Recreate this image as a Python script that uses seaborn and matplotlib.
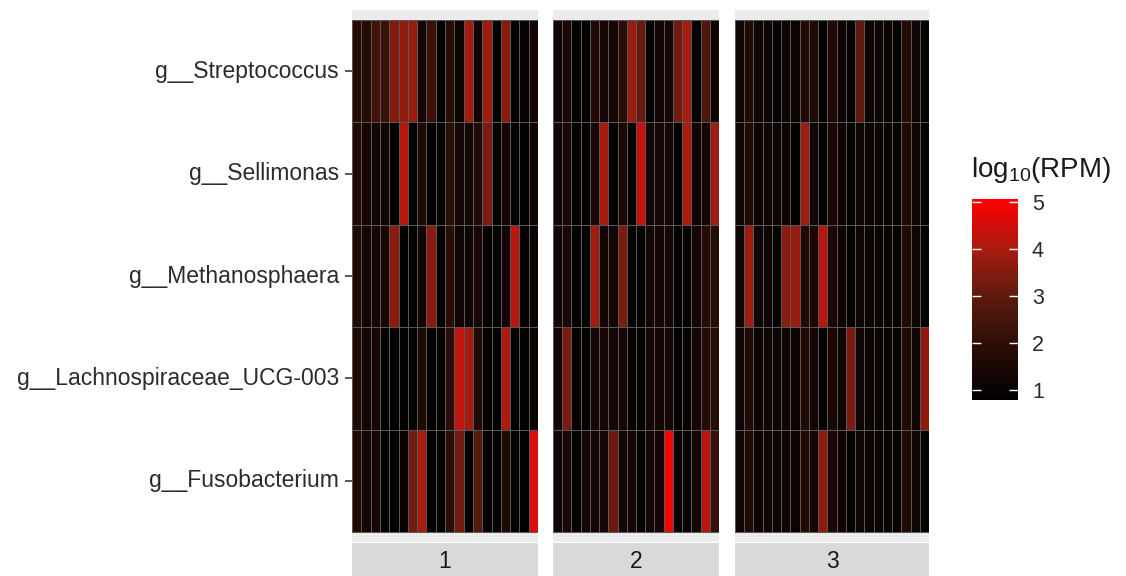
import numpy as np
import pandas as pd
import matplotlib
matplotlib.use("Agg")
import matplotlib.pyplot as plt
from matplotlib.colors import LinearSegmentedColormap
import seaborn as sns

# data
TAXA = ["g__Streptococcus", "g__Sellimonas", "g__Methanosphaera",
        "g__Lachnospiraceae_UCG-003", "g__Fusobacterium"]
FACET_LABELS = ["1", "2", "3"]

PANEL1_VALUES = [
    [1.8, 1.8, 2.4, 2.3, 3.5, 3.7, 3.8, 1.3, 2.3, 0.9, 1.9, 1.1, 4.0, 1.2, 3.9, 0.9, 3.6, 0.9, 1.0, 1.3],
    [1.7, 1.4, 1.3, 1.2, 0.9, 4.2, 0.9, 1.6, 0.9, 1.0, 1.9, 1.4, 1.4, 1.6, 3.4, 0.9, 1.4, 0.9, 0.9, 1.2],
    [1.7, 1.3, 1.4, 1.5, 3.6, 0.9, 0.9, 1.3, 3.6, 0.9, 1.9, 1.2, 1.2, 1.5, 0.9, 0.9, 1.3, 4.2, 0.9, 1.1],
    [1.7, 1.3, 1.4, 0.9, 0.9, 0.9, 0.9, 1.6, 0.9, 0.9, 1.9, 4.3, 4.0, 1.6, 0.9, 0.9, 4.1, 0.9, 0.9, 1.1],
    [1.7, 1.3, 1.4, 0.9, 0.9, 1.0, 3.3, 4.0, 0.9, 0.9, 1.9, 3.3, 0.9, 2.9, 0.9, 0.9, 1.6, 0.9, 0.9, 4.6],
]
PANEL2_VALUES = [
    [1.3, 1.5, 0.9, 1.0, 1.6, 1.4, 1.4, 1.9, 3.8, 3.2, 1.0, 1.3, 1.3, 3.3, 4.0, 0.9, 2.7, 1.2],
    [1.3, 1.5, 0.9, 0.9, 1.5, 4.0, 1.0, 1.5, 0.9, 4.4, 1.3, 1.4, 1.3, 0.9, 4.1, 1.2, 1.4, 3.9],
    [1.3, 1.5, 0.9, 0.9, 3.9, 1.3, 1.3, 3.4, 1.0, 0.9, 1.3, 1.3, 1.3, 0.9, 0.9, 1.3, 1.8, 1.8],
    [1.3, 3.4, 0.9, 0.9, 1.3, 1.4, 1.3, 1.4, 1.0, 0.9, 1.3, 1.3, 1.3, 0.9, 0.9, 1.3, 1.8, 1.8],
    [1.3, 1.5, 0.9, 1.3, 1.3, 1.4, 3.2, 1.3, 1.3, 0.9, 1.3, 1.3, 5.05, 0.9, 1.0, 1.3, 4.2, 2.2],
]
PANEL3_VALUES = [
    [1.2, 1.7, 1.2, 1.2, 0.9, 1.2, 1.1, 1.7, 1.6, 0.9, 1.6, 1.2, 0.9, 3.0, 1.2, 1.2, 1.1, 0.9, 1.8, 1.2, 0.9],
    [1.2, 1.6, 1.2, 1.2, 1.1, 1.2, 0.9, 3.9, 1.2, 0.9, 1.5, 1.2, 0.9, 1.2, 1.1, 1.1, 1.1, 0.9, 1.7, 1.2, 0.9],
    [1.2, 3.9, 1.2, 1.2, 0.9, 3.6, 3.8, 1.7, 1.5, 4.2, 1.5, 1.2, 0.9, 1.2, 1.1, 1.1, 1.1, 0.9, 1.7, 1.2, 0.9],
    [1.2, 1.6, 1.2, 1.2, 1.1, 1.2, 1.1, 1.7, 1.3, 0.9, 1.5, 1.2, 3.4, 1.2, 1.1, 1.1, 1.1, 0.9, 1.7, 1.2, 3.7],
    [1.2, 1.6, 1.2, 1.2, 1.1, 1.2, 1.1, 1.7, 1.3, 3.7, 1.5, 1.2, 0.9, 1.2, 1.1, 1.1, 1.1, 0.9, 1.7, 1.2, 0.9],
]
LEGEND_TICKS = [1, 2, 3, 4, 5]

# style
W, H = 1126, 576
VMIN, VMAX = 0.79, 5.06
TEXT_COLOR = "#2b2b2b"
FONT = "Liberation Sans"

plt.rcParams["font.family"] = [FONT, "DejaVu Sans"]
plt.rcParams["mathtext.fontset"] = "custom"
plt.rcParams["mathtext.rm"] = FONT
plt.rcParams["mathtext.it"] = FONT

# zwart -> rood, ongeveer zoals de legende
stops = [(0.0, "#000000"), (0.05, "#080303"), (0.282, "#2e0e06"),
         (0.518, "#5e1a0e"), (0.753, "#a81c10"), (1.0, "#ff0000")]
cmap = LinearSegmentedColormap.from_list("blackred", stops)


def px_axes(fig, x0, y0, x1, y1):
    return fig.add_axes([x0 / W, 1 - y1 / H, (x1 - x0) / W, (y1 - y0) / H])


fig = plt.figure(figsize=(W / 100, H / 100), dpi=100)

panel_x = [(352, 538), (553, 719), (735, 929)]
panels = [PANEL1_VALUES, PANEL2_VALUES, PANEL3_VALUES]
pad = 10 / 102.4

cax = px_axes(fig, 972, 199, 1018, 400)
cbar = None

for i, (values, (x0, x1)) in enumerate(zip(panels, panel_x)):
    ax = px_axes(fig, x0, 10, x1, 542)
    ax.set_facecolor("#ebebeb")
    df = pd.DataFrame(values, index=TAXA)
    sns.heatmap(df, ax=ax, cmap=cmap, vmin=VMIN, vmax=VMAX,
                linewidths=0.6, linecolor="#585858",
                cbar=(i == 0), cbar_ax=cax if i == 0 else None,
                xticklabels=False, yticklabels=TAXA if i == 0 else False)
    if i == 0:
        cbar = ax.collections[0].colorbar
    ax.set_ylim(len(TAXA) + pad, -pad)
    ax.set_xlabel("")
    ax.set_ylabel("")
    for s in ax.spines.values():
        s.set_visible(False)
    if i == 0:
        ax.tick_params(axis="y", length=5, width=1.1, color=TEXT_COLOR, pad=4.5,
                       labelsize=16.5, labelcolor=TEXT_COLOR, rotation=0)
    else:
        ax.tick_params(axis="y", length=0)
    ax.tick_params(axis="x", length=0)

    # facet strip onderaan
    sax = px_axes(fig, x0, 543, x1, 600)
    sax.set_facecolor("#d9d9d9")
    sax.set_xticks([])
    sax.set_yticks([])
    for s in sax.spines.values():
        s.set_visible(False)
    fig.text((x0 + x1) / 2 / W, 1 - 561 / H, FACET_LABELS[i], ha="center", va="center",
             fontsize=16.5, color="#1a1a1a")

# legende
cbar.outline.set_visible(False)
cbar.set_ticks(LEGEND_TICKS)
cax.tick_params(length=0, pad=10, labelsize=15.5, labelcolor=TEXT_COLOR)
tr = cax.get_yaxis_transform()
cax.hlines(LEGEND_TICKS, 0, 0.2, colors="white", linewidth=1, transform=tr)
cax.hlines(LEGEND_TICKS, 0.8, 1, colors="white", linewidth=1, transform=tr)
fig.text(971 / W, 1 - 177 / H, r"log$_{10}$(RPM)", ha="left", va="baseline",
         fontsize=20, color="#1a1a1a")

fig.savefig("out.png", dpi=100)
